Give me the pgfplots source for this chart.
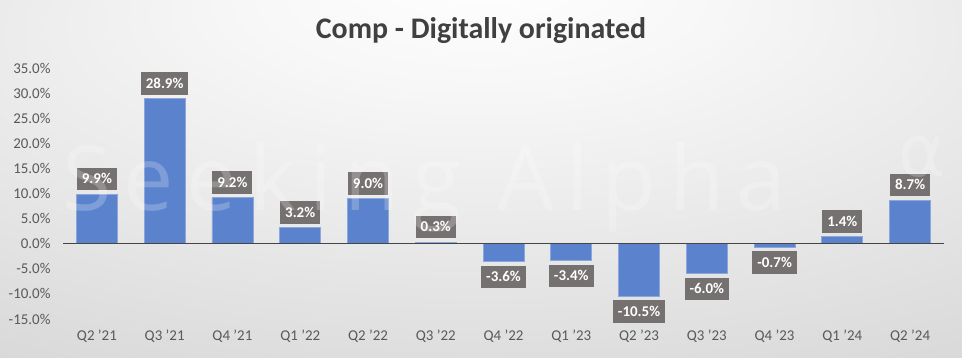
\documentclass[border=0pt]{standalone}
\usepackage{pgfplots}
\pgfplotsset{compat=1.18}
\usepackage{fontspec}
\setmainfont{Carlito}
\newfontfamily\wmfont[LetterSpace=14]{Open Sans}
\newfontfamily\wmalpha{DejaVu Sans}
\definecolor{barblue}{HTML}{5B82CC}
\definecolor{lblgray}{HTML}{767171}
\definecolor{ticktxt}{HTML}{595959}
\definecolor{titletxt}{HTML}{404040}
\definecolor{zeroline}{HTML}{454545}
\pgfdeclareradialshading{bgshade}{\pgfpoint{0bp}{30bp}}{color(0bp)=(white); color(12bp)=(white!97!black); color(45bp)=(black!15); color(75bp)=(black!26)}
\begin{document}
\begin{tikzpicture}[x=1bp,y=1bp]
\shade[shading=bgshade] (0,0) rectangle (962,357);
\node[font=\fontsize{30}{34}\selectfont\bfseries, text=titletxt] at (481,326) {Comp - Digitally originated};
\begin{axis}[at={(63bp,38bp)}, anchor=south west, scale only axis,
  width=881bp, height=251bp,
  xmin=-0.5, xmax=12.5, ymin=-15, ymax=35,
  ytick={-15,-10,...,35},
  xtick={0,...,12},
  xticklabels={Q2 '21,Q3 '21,Q4 '21,Q1 '22,Q2 '22,Q3 '22,Q4 '22,Q1 '23,Q2 '23,Q3 '23,Q4 '23,Q1 '24,Q2 '24},
  axis line style={draw=none}, major tick length=0pt,
  /pgf/number format/assume math mode=true,
  yticklabel={\pgfmathprintnumber[fixed,fixed zerofill,precision=1]{\tick}\%},
  ticklabel style={font=\fontsize{15}{18}\selectfont, text=ticktxt},
  yticklabel style={anchor=east, xshift=-9bp},
  xticklabel style={anchor=north, yshift=-7bp},
  clip=false,
  ybar, bar width=41bp,
  nodes near coords={\pgfmathprintnumber[fixed,fixed zerofill,precision=1]{\pgfplotspointmeta}\%},
  nodes near coords align=vertical,
  every node near coord/.append style={fill=lblgray, text=white,
    font=\fontsize{15}{18}\selectfont\bfseries, text height=10.5bp, text depth=1bp,
    inner xsep=5bp, inner ysep=5.5bp, outer ysep=4bp},
]
\addplot[fill=barblue, draw=barblue!70!white, line width=0.8bp] coordinates {
(0,9.9) (1,28.9) (2,9.2) (3,3.2) (4,9.0) (5,0.3) (6,-3.6) (7,-3.4) (8,-10.5) (9,-6.0) (10,-0.7) (11,1.4) (12,8.7)};
\draw[zeroline, line width=1.5bp] (axis cs:-0.5,0) -- (axis cs:12.5,0);
\end{axis}
\node[text=white, opacity=0.22, font=\wmfont\fontsize{90}{90}\selectfont, anchor=base west, inner sep=0pt] at (62,147) {Seeking Alpha};
\node[text=white, opacity=0.22, inner sep=0pt] at (922,200) {\fontsize{72}{72}\wmalpha α};
\end{tikzpicture}
\end{document}
